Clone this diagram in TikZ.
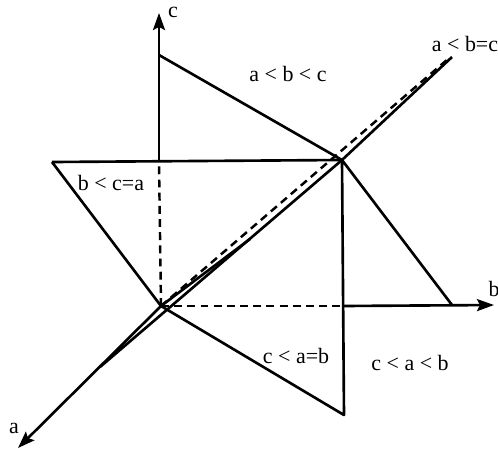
\documentclass[tikz,border=0pt]{standalone}
\usepackage{fontspec}
\setmainfont{Liberation Serif}
\usetikzlibrary{arrows.meta}

\begin{document}
\begin{tikzpicture}[x=0.02cm, y=-0.02cm,
		axisline/.style={line width=1.5pt, -{Stealth[length=3.4mm, width=2.4mm, inset=0.6mm]}},
		edgeline/.style={line width=1.5pt, line join=round},
		hiddenline/.style={line width=1.4pt, dash pattern=on 4.5pt off 3pt},
		regionlabel/.style={font=\fontsize{12.5}{15}\selectfont, inner sep=0pt}]
	\useasboundingbox (0,0) rectangle (498,458);
	\coordinate (O) at (161,306);
	\coordinate (Q) at (159,162);
	\coordinate (C) at (159,55);
	\coordinate (ctip) at (159,13);
	\coordinate (L) at (52,162);
	\coordinate (P) at (342,160);
	\coordinate (D) at (344,415);
	\coordinate (R) at (343,306);
	\coordinate (B) at (452,305);
	\coordinate (btip) at (494,305);
	\coordinate (atip) at (18,448);
	\coordinate (M) at (100,367);
	\coordinate (J) at (250,239);
	\coordinate (T) at (452,57);
	\coordinate (Tdash) at (448,59);
	\draw[axisline] (Q) -- (ctip);
	\draw[hiddenline] (O) -- (Q);
	\draw[edgeline] (C) -- (P);
	\draw[edgeline] (L) -- (P);
	\draw[edgeline] (L) -- (O) -- (D) -- (P) -- (B);
	\draw[hiddenline] (O) -- (R);
	\draw[axisline] (R) -- (btip);
	\draw[axisline] (O) -- (atip);
	\draw[edgeline] (M) -- (P) -- (T);
	\draw[edgeline] (O) -- (J);
	\draw[hiddenline] (O) -- (Tdash);
	\node[regionlabel] (lc) at (173,12) {c};
	\node[regionlabel] (lb) at (494,289) {b};
	\node[regionlabel] (la) at (14,428) {a};
	\node[regionlabel] (abc) at (288,74) {a < b < c};
	\node[regionlabel] (bca) at (111,183) {b < c=a};
	\node[regionlabel] (cab) at (296,356) {c < a=b};
	\node[regionlabel] (cab2) at (410,363) {c < a < b};
	\node[regionlabel] (abc2) at (465,44) {a < b=c};
\end{tikzpicture}
\end{document}
